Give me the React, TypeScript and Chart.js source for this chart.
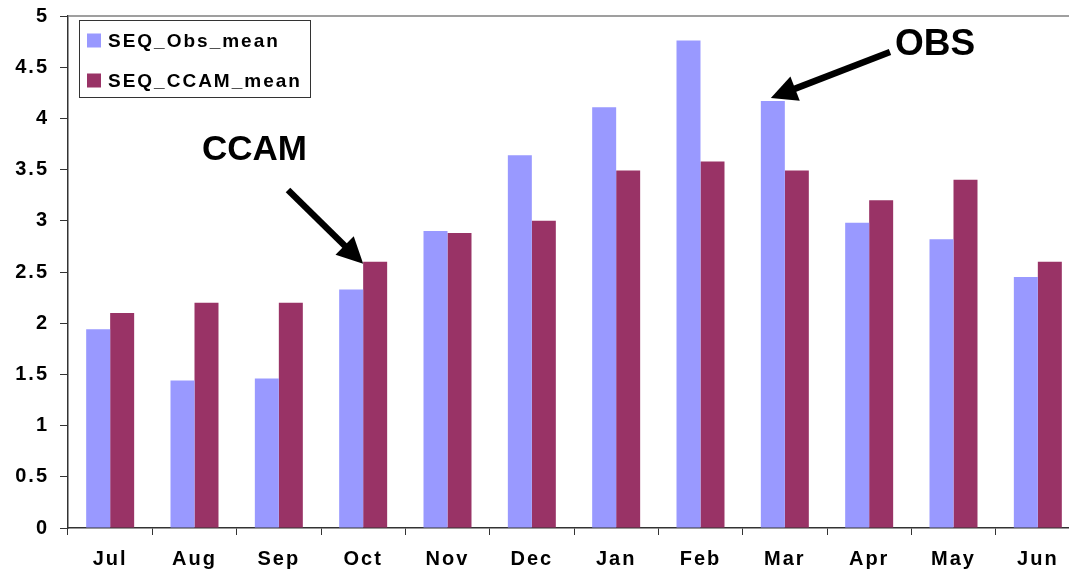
import React, { useEffect, useRef } from "react";
import { Chart, registerables } from "chart.js";

Chart.register(...registerables);

const months = ["Jul", "Aug", "Sep", "Oct", "Nov", "Dec", "Jan", "Feb", "Mar", "Apr", "May", "Jun"];
const obsMean = [1.94, 1.44, 1.46, 2.33, 2.9, 3.64, 4.11, 4.76, 4.17, 2.98, 2.82, 2.45];
const ccamMean = [2.1, 2.2, 2.2, 2.6, 2.88, 3.0, 3.49, 3.58, 3.49, 3.2, 3.4, 2.6];
const seriesLabels = ["SEQ_Obs_mean", "SEQ_CCAM_mean"];
const seriesColors = ["#9999FF", "#993366"];

const FONT = "'Liberation Sans', Arial, sans-serif";

const spacingPlugin = {
  id: "spacing",
  afterLayout(chart: any) {
    const patch = (scale: any, sp: string) => {
      if (!scale || scale.__patched) return;
      const orig = scale.drawLabels.bind(scale);
      scale.drawLabels = (area: any) => {
        const ctx = chart.ctx;
        const prev = (ctx as any).letterSpacing;
        (ctx as any).letterSpacing = sp;
        orig(area);
        (ctx as any).letterSpacing = prev || "0px";
      };
      scale.__patched = true;
    };
    patch(chart.scales.x, "2px");
    patch(chart.scales.y, "2px");
  },
};

const framePlugin = {
  id: "frame",
  afterDraw(chart: any) {
    const { ctx, chartArea } = chart;
    ctx.save();
    ctx.strokeStyle = "#808080";
    ctx.lineWidth = 1.5;
    ctx.beginPath();
    ctx.moveTo(chartArea.left, chartArea.top);
    ctx.lineTo(chartArea.right, chartArea.top);
    ctx.lineTo(chartArea.right, chartArea.bottom);
    ctx.stroke();
    ctx.restore();
  },
};

const legendPlugin = {
  id: "boxLegend",
  afterDraw(chart: any) {
    const ctx = chart.ctx;
    ctx.save();
    const x0 = 79, y0 = 20, w = 231, h = 77;
    ctx.fillStyle = "#ffffff";
    ctx.fillRect(x0, y0, w, h);
    ctx.strokeStyle = "#333";
    ctx.lineWidth = 1;
    ctx.strokeRect(x0 + 0.5, y0 + 0.5, w, h);
    (ctx as any).letterSpacing = "2px";
    ctx.font = `bold 19px ${FONT}`;
    ctx.textBaseline = "middle";
    ctx.textAlign = "left";
    chart.data.datasets.forEach((ds: any, i: number) => {
      const cy = 40.5 + i * 40;
      ctx.fillStyle = ds.backgroundColor;
      ctx.fillRect(87, cy - 7, 14, 14);
      ctx.fillStyle = "#000";
      ctx.fillText(ds.label, 108, cy + 1);
    });
    ctx.restore();
  },
};

function drawArrow(ctx: CanvasRenderingContext2D, x1: number, y1: number, x2: number, y2: number) {
  const ang = Math.atan2(y2 - y1, x2 - x1);
  const headLen = 26;
  const headW = 13;
  const bx = x2 - headLen * Math.cos(ang);
  const by = y2 - headLen * Math.sin(ang);
  ctx.strokeStyle = "#000";
  ctx.lineWidth = 6.5;
  ctx.lineCap = "butt";
  ctx.beginPath();
  ctx.moveTo(x1, y1);
  ctx.lineTo(bx + 2 * Math.cos(ang), by + 2 * Math.sin(ang));
  ctx.stroke();
  ctx.fillStyle = "#000";
  ctx.beginPath();
  ctx.moveTo(x2, y2);
  ctx.lineTo(bx + headW * Math.sin(ang), by - headW * Math.cos(ang));
  ctx.lineTo(bx - headW * Math.sin(ang), by + headW * Math.cos(ang));
  ctx.closePath();
  ctx.fill();
}

const annotationPlugin = {
  id: "arrows",
  afterDraw(chart: any) {
    const ctx = chart.ctx;
    const xs = chart.scales.x;
    const ys = chart.scales.y;
    ctx.save();
    (ctx as any).letterSpacing = "0px";
    ctx.fillStyle = "#000";
    ctx.textAlign = "left";
    ctx.textBaseline = "alphabetic";
    ctx.font = `bold 35px ${FONT}`;
    ctx.fillText("CCAM", 202, 160);
    ctx.font = `bold 37px ${FONT}`;
    ctx.fillText("OBS", 895, 55);
    const octX = xs.getPixelForValue(3);
    const octY = ys.getPixelForValue(ccamMean[3]);
    drawArrow(ctx, 288, 190, octX, octY + 2);
    const marX = xs.getPixelForValue(8);
    const marY = ys.getPixelForValue(obsMean[8]);
    drawArrow(ctx, 890, 52, marX - 14, marY - 3);
    ctx.restore();
  },
};

export default function App() {
  const ref = useRef<HTMLCanvasElement>(null);
  useEffect(() => {
    if (!ref.current) return;
    const chart = new Chart(ref.current, {
      type: "bar",
      data: {
        labels: months,
        datasets: [
          { label: seriesLabels[0], data: obsMean, backgroundColor: seriesColors[0], borderWidth: 0 },
          { label: seriesLabels[1], data: ccamMean, backgroundColor: seriesColors[1], borderWidth: 0 },
        ],
      },
      options: {
        animation: false,
        responsive: false,
        devicePixelRatio: 1,
        layout: { padding: { top: 16, right: 10, left: 0, bottom: 0 } },
        datasets: { bar: { categoryPercentage: 0.569, barPercentage: 1 } },
        plugins: { legend: { display: false }, tooltip: { enabled: false } },
        scales: {
          x: {
            offset: true,
            grid: { display: true, drawOnChartArea: false, drawTicks: true, tickLength: 7, color: "#333", offset: true },
            border: { display: true, color: "#333", width: 1.5 },
            ticks: { color: "#000", font: { family: FONT, size: 20, weight: "bold" }, padding: 12, maxRotation: 0 },
            afterFit: (s: any) => { s.height = 47; s.paddingLeft = 0; s.paddingRight = 0; },
          },
          y: {
            min: 0,
            max: 5,
            grid: { display: true, drawOnChartArea: false, drawTicks: true, tickLength: 8, color: "#333" },
            border: { display: true, color: "#333", width: 1.5 },
            ticks: {
              stepSize: 0.5,
              color: "#000",
              padding: 11,
              font: { family: FONT, size: 20, weight: "bold" },
              callback: (v: any) => String(v),
            },
            afterFit: (s: any) => { s.width = 68; s.paddingTop = 0; s.paddingBottom = 0; },
          },
        },
      },
      plugins: [spacingPlugin, framePlugin, legendPlugin, annotationPlugin],
    } as any);
    return () => chart.destroy();
  }, []);
  return (
    <div style={{ position: "absolute", left: 0, top: 0, width: 1069, height: 575, overflow: "hidden", background: "#fff" }}>
      <canvas ref={ref} width={1090} height={575} style={{ display: "block" }} />
    </div>
  );
}
